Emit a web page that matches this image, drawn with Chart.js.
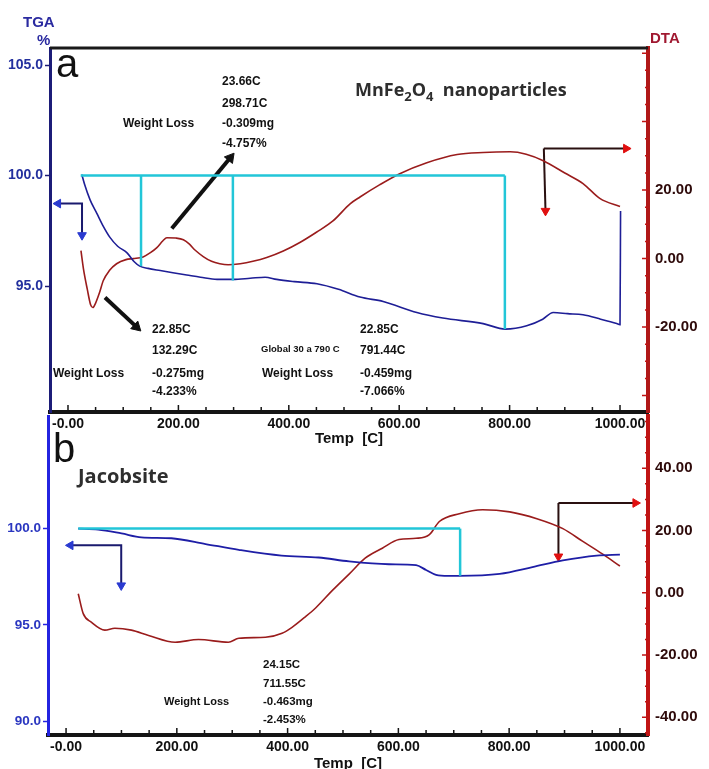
<!DOCTYPE html>
<html>
<head>
<meta charset="utf-8">
<script src="https://cdn.jsdelivr.net/npm/chart.js@4.4.0/dist/chart.umd.min.js"></script>
<style>
  body { margin: 0; background: #fff; width: 709px; height: 769px; overflow: hidden; position: relative; }
  .box { position: absolute; left: 0; width: 709px; }
</style>
</head>
<body>
<div class="box" style="top:0;height:450px"><canvas id="chartA"></canvas></div>
<div class="box" style="top:400px;height:369px"><canvas id="chartB"></canvas></div>
<script>
// ---- panel a : MnFe2O4 nanoparticles ----
const tempTgaA = [25, 30, 40, 52, 64, 76, 90, 107, 120, 130, 145, 167, 190, 215, 240, 270, 299, 330, 357, 378, 410, 451, 490, 529, 571, 632, 679, 752, 792, 831, 860, 879, 905, 933, 965, 994, 1000, 1001];
const tgaA = [100.05, 99.6, 98.9, 98.3, 97.7, 97.2, 96.8, 96.5, 96.1, 95.9, 95.8, 95.7, 95.6, 95.5, 95.4, 95.3, 95.3, 95.35, 95.4, 95.3, 95.2, 95.1, 94.85, 94.5, 94.3, 93.8, 93.55, 93.3, 93.05, 93.2, 93.5, 93.8, 93.75, 93.7, 93.5, 93.3, 93.25, 98.4];
const tempDtaA = [23.5, 28, 35, 41, 45, 50, 57, 64, 75, 88, 105, 118, 136, 150, 161, 172, 179, 195, 209, 220, 230, 245, 260, 275, 290, 312, 335, 360, 390, 420, 450, 480, 511, 529, 565, 601, 650, 705, 752, 801, 830, 861, 900, 933, 964, 1000];
const dtaA = [2.3, -3, -9, -13.5, -14.3, -13, -10, -6.4, -3.5, -1.5, -0.3, 0, 0.5, 1.8, 3.2, 5.2, 6.1, 6, 5.5, 4.2, 2.5, 0.6, -0.8, -1.5, -1.8, -1.5, -0.8, 0.3, 2.2, 4.7, 7.7, 11, 16, 18, 21.6, 24.8, 28, 30.4, 31, 31.2, 30.5, 28.6, 25, 21.9, 17.5, 15.2];
const stepTempsA = [23, 132.3, 298.7, 791.4];     // cyan step-analysis limits
const stepTgaA = [100, 95.9, 95.25, 93.05];

// ---- panel b : Jacobsite ----
const tempTgaB = [22, 58, 100, 136, 190, 252, 312, 389, 456, 511, 583, 632, 650, 668, 690, 710, 783, 842, 897, 958, 1000];
const tgaB = [100, 99.95, 99.75, 99.55, 99.5, 99.2, 98.9, 98.6, 98.5, 98.3, 98.15, 98.1, 97.85, 97.6, 97.55, 97.55, 97.65, 98.0, 98.35, 98.6, 98.65];
const tempDtaB = [22, 31, 46, 70, 88, 118, 149, 197, 239, 293, 312, 360, 390, 408, 430, 451, 480, 511, 540, 571, 601, 632, 656, 674, 710, 752, 801, 850, 897, 933, 969, 1000];
const dtaB = [-0.3, -6.7, -9.5, -12, -11.4, -12, -13.7, -15.9, -15, -15.9, -14.6, -14.3, -13, -11.1, -8, -4.8, 0.6, 6, 11.1, 14.3, 17.1, 17.5, 18.7, 22.9, 25.4, 26.7, 26, 23.8, 20.6, 16.5, 12.4, 8.6];
const stepTempsB = [22, 711.5];
const stepTgaB = [100, 97.55];

const xTicks = [0, 50, 100, 150, 200, 250, 300, 350, 400, 450, 500, 550, 600, 650, 700, 750, 800, 850, 900, 950, 1000];
const tgaTicksA = [95, 100, 105];
const dtaTicksA = [-20, 0, 20];
const tgaTicksB = [90, 95, 100];
const dtaTicksB = [-40, -20, 0, 20, 40];

const BOLD = 'bold 12px "Liberation Sans", Arial, sans-serif';
const pts = (xs, ys) => xs.map((x, i) => ({ x: x, y: ys[i] }));

function line(data, color, width, axis) {
  return { data: data, borderColor: color, borderWidth: width, pointRadius: 0, yAxisID: axis || 'y', tension: 0.3, cubicInterpolationMode: 'monotone' };
}
function arrow(data, shaft, head, radius, rot, width) {
  return {
    data: data, borderColor: shaft, borderWidth: width || 2, yAxisID: 'y', tension: 0,
    pointStyle: 'triangle', pointRadius: radius, pointRotation: rot,
    pointBackgroundColor: head, pointBorderColor: head, pointBorderWidth: 1
  };
}
function stepLines(temps, tgas, color) {
  const sets = [line([{ x: temps[0], y: 100 }, { x: temps[temps.length - 1], y: 100 }], color, 2.5)];
  for (let i = 1; i < temps.length; i++) {
    sets.push(line([{ x: temps[i], y: 100 }, { x: temps[i], y: tgas[i] }], color, 2.5));
  }
  sets.forEach(s => { s.tension = 0; });
  return sets;
}

function textPlugin(items) {
  return {
    id: 'texts',
    afterDraw(chart) {
      const ctx = chart.ctx;
      ctx.save();
      ctx.textAlign = 'left';
      ctx.textBaseline = 'alphabetic';
      items.forEach(it => {
        ctx.font = it[3] || BOLD;
        ctx.fillStyle = it[4] || '#111';
        ctx.fillText(it[0], it[1], it[2]);
      });
      ctx.restore();
    }
  };
}
// small tick marks pointing into the plot, as in the instrument printout
const innerTicks = {
  id: 'innerTicks',
  afterDraw(chart) {
    const ctx = chart.ctx, a = chart.chartArea;
    const xs = chart.scales.x, yr = chart.scales.y2;
    ctx.save();
    ctx.lineWidth = 1.5;
    ctx.strokeStyle = '#151515';
    ctx.beginPath();
    xTicks.forEach(v => {
      const px = xs.getPixelForValue(v);
      ctx.moveTo(px, a.bottom);
      ctx.lineTo(px, a.bottom - (v % 200 === 0 ? 7 : 5));
    });
    ctx.stroke();
    ctx.strokeStyle = '#c01414';
    ctx.beginPath();
    for (let v = Math.ceil(yr.min / 5) * 5; v <= yr.max; v += 5) {
      const py = yr.getPixelForValue(v);
      ctx.moveTo(a.right, py);
      ctx.lineTo(a.right - (v % 20 === 0 ? 6 : 3), py);
    }
    ctx.stroke();
    ctx.restore();
  }
};
const topBorder = {
  id: 'topBorder',
  afterDraw(chart) {
    const a = chart.chartArea, ctx = chart.ctx;
    ctx.save();
    ctx.strokeStyle = '#1a1a1a';
    ctx.lineWidth = 3;
    ctx.beginPath();
    ctx.moveTo(a.left, a.top);
    ctx.lineTo(a.right, a.top);
    ctx.stroke();
    ctx.restore();
  }
};
const subTitle = {
  id: 'subTitle',
  afterDraw(chart) {
    const ctx = chart.ctx;
    ctx.save();
    ctx.fillStyle = '#2e2e2e';
    let x = 355;
    const parts = [['MnFe', 18, 0], ['2', 13, 5], ['O', 18, 0], ['4', 13, 5], ['  nanoparticles', 18, 0]];
    parts.forEach(p => {
      ctx.font = 'bold ' + p[1] + 'px "Open Sans", sans-serif';
      ctx.fillText(p[0], x, 96 + p[2]);
      x += ctx.measureText(p[0]).width;
    });
    ctx.restore();
  }
};

function xScale(height, titlePad) {
  return {
    type: 'linear', min: -32.6, max: 1050.7,
    afterBuildTicks: s => { s.ticks = xTicks.map(v => ({ value: v })); },
    afterFit: s => { s.height = height; },
    ticks: {
      autoSkip: false, maxRotation: 0, padding: 4, color: '#111',
      font: { family: '"Liberation Sans", Arial', weight: 'bold', size: 14 },
      callback: v => v % 200 === 0 ? (v === 0 ? '-0.00' : v.toFixed(2)) : ''
    },
    grid: { drawOnChartArea: false, drawTicks: false },
    border: { color: '#151515', width: 4 },
    title: { display: true, text: 'Temp  [C]', color: '#111', padding: titlePad,
      font: { family: '"Liberation Sans", Arial', weight: 'bold', size: 15 } }
  };
}
function yScale(min, max, ticks, digits, pos, width, color, axisColor, axisWidth, size) {
  const right = pos === 'right';
  return {
    type: 'linear', position: pos, min: min, max: max,
    afterBuildTicks: s => { s.ticks = ticks.map(v => ({ value: v })); },
    afterFit: s => { s.width = width; },
    ticks: { color: color, padding: right ? 7 : 2, font: { family: '"Liberation Sans", Arial', weight: 'bold', size: size },
      callback: v => v.toFixed(digits) },
    grid: { drawOnChartArea: false, drawTicks: !right, color: axisColor, tickLength: 5, tickWidth: 1.5 },
    border: { color: axisColor, width: axisWidth }
  };
}
const baseOpts = (padTop, scales) => ({
  responsive: true, maintainAspectRatio: false, animation: false,
  layout: { padding: { top: padTop, left: 0, right: 0, bottom: 0 } },
  plugins: { legend: { display: false }, tooltip: { enabled: false } },
  scales: scales
});

// ---------- chart a ----------
new Chart(document.getElementById('chartA'), {
  type: 'line',
  data: {
    datasets: [
      ...stepLines(stepTempsA, stepTgaA, '#22c6d8'),
      line(pts(tempTgaA, tgaA), '#1e1e96', 1.6),
      line(pts(tempDtaA, dtaA), '#9a1c1c', 1.6, 'y2'),
      arrow([{ x: -18, y: 98.73 }, { x: 25.4, y: 98.73 }, { x: 25.4, y: 97.3 }], '#1a1a6e', '#2a3ad0', [5, 0, 5], [270, 0, 180]),
      arrow([{ x: 862, y: 101.22 }, { x: 1011, y: 101.22 }], '#2a1010', '#e01010', [0, 5], [0, 90]),
      arrow([{ x: 862, y: 101.22 }, { x: 865, y: 98.4 }], '#2a1010', '#e01010', [0, 5], [0, 180]),
      arrow([{ x: 188, y: 97.6 }, { x: 294, y: 100.8 }], '#111', '#111', [0, 6], [0, 39], 4),
      arrow([{ x: 67, y: 94.48 }, { x: 124, y: 93.15 }], '#111', '#111', [0, 6], [0, 133], 4)
    ]
  },
  options: baseOpts(48, {
    x: xScale(38, { top: 0, bottom: 2 }),
    y: yScale(89.3, 105.77, tgaTicksA, 1, 'left', 50, '#23309e', '#1c1c78', 3, 14),
    y2: yScale(-44.8, 61.5, dtaTicksA, 2, 'right', 61, '#2e0a0a', '#b01818', 4, 15)
  }),
  plugins: [topBorder, subTitle, innerTicks, textPlugin([
    ['TGA', 23, 27, 'bold 15px "Liberation Sans", Arial', '#2a2aa0'],
    ['%', 37, 45, 'bold 15px "Liberation Sans", Arial', '#2a2aa0'],
    ['DTA', 650, 43, 'bold 15px "Liberation Sans", Arial', '#a01830'],
    ['a', 56, 77, '40px "Liberation Sans", Arial', '#111'],
    ['23.66C', 222, 85], ['298.71C', 222, 107], ['Weight Loss', 123, 127], ['-0.309mg', 222, 127], ['-4.757%', 222, 147],
    ['22.85C', 152, 333], ['132.29C', 152, 354], ['Weight Loss', 53, 377], ['-0.275mg', 152, 377], ['-4.233%', 152, 395],
    ['Global 30 a 790 C', 261, 352, 'bold 9.5px "Liberation Sans", Arial'], ['Weight Loss', 262, 377],
    ['22.85C', 360, 333], ['791.44C', 360, 354], ['-0.459mg', 360, 377], ['-7.066%', 360, 395]
  ])]
});

// ---------- chart b ----------
new Chart(document.getElementById('chartB'), {
  type: 'line',
  data: {
    datasets: [
      ...stepLines(stepTempsB, stepTgaB, '#22c6d8'),
      line(pts(tempTgaB, tgaB), '#1e1ea6', 1.8),
      line(pts(tempDtaB, dtaB), '#9a1c1c', 1.6, 'y2'),
      arrow([{ x: 8, y: 99.13 }, { x: 99.6, y: 99.13 }, { x: 99.6, y: 97.05 }], '#1a1a6e', '#2a3ad0', [5, 0, 5], [270, 0, 180]),
      arrow([{ x: 889, y: 101.33 }, { x: 1028, y: 101.33 }], '#2a1010', '#e01010', [0, 5], [0, 90]),
      arrow([{ x: 889, y: 101.33 }, { x: 889, y: 98.55 }], '#2a1010', '#e01010', [0, 5], [0, 180])
    ]
  },
  options: baseOpts(12, {
    x: xScale(34, { top: 0, bottom: -4 }),
    y: yScale(89.28, 105.85, tgaTicksB, 1, 'left', 48, '#2a36c0', '#2424e0', 3, 13.5),
    y2: yScale(-45.7, 56.8, dtaTicksB, 2, 'right', 61, '#2e0a0a', '#c01414', 4, 15)
  }),
  plugins: [innerTicks, textPlugin([
    ['b', 53, 62, '40px "Liberation Sans", Arial', '#111'],
    ['Jacobsite', 78, 83, 'bold 20px "Open Sans", sans-serif', '#2e2e2e'],
    ['24.15C', 263, 268, BOLD.replace('12px', '11.5px')], ['711.55C', 263, 287, BOLD.replace('12px', '11.5px')],
    ['Weight Loss', 164, 305, BOLD.replace('12px', '11px')], ['-0.463mg', 263, 305, BOLD.replace('12px', '11.5px')],
    ['-2.453%', 263, 323, BOLD.replace('12px', '11.5px')]
  ])]
});
</script>
</body>
</html>
